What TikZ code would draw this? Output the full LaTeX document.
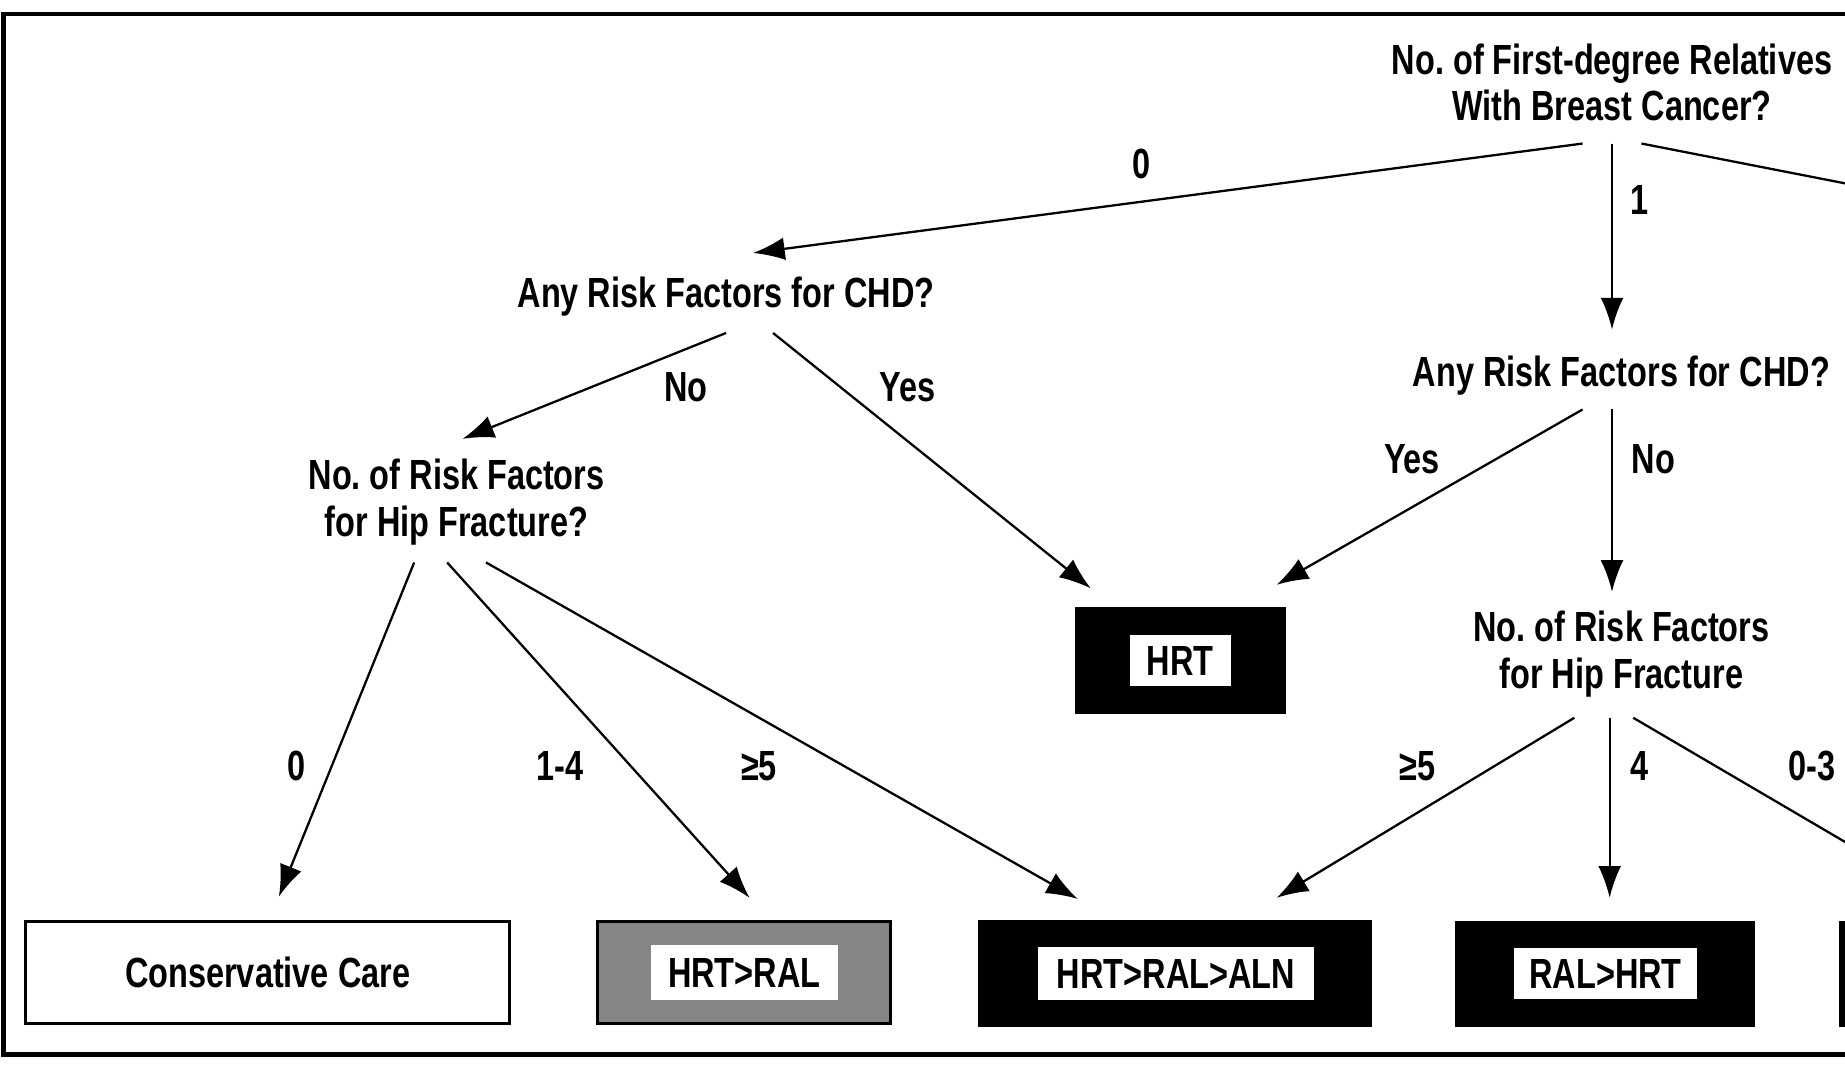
\documentclass[tikz,border=0pt]{standalone}
\usepackage{fontspec}
\newfontfamily\qfont[FakeStretch=0.77,UprightFont=* Bold]{Liberation Sans}
\usetikzlibrary{arrows.meta,calc}
\newlength\pxu
\setlength\pxu{0.011767cm}
\frenchspacing
\begin{document}
\begin{tikzpicture}[x=0.011767cm,y=-0.011767cm,
  q/.style={font=\qfont\fontsize{12}{13.3}\selectfont, align=center, inner sep=0pt},
  lab/.style={font=\qfont\fontsize{12}{13.3}\selectfont, inner sep=0pt, anchor=mid},
  ln/.style={line width=0.65pt},
  arr/.style={ln, -{Latex[length=9pt,width=6.5pt]}},
  outerbox/.style={draw=black, line width=0.8pt, inner sep=0pt},
  innerbox/.style={fill=white, inner sep=0pt, font=\qfont\fontsize{12}{13.3}\selectfont},
  frame/.style={line width=1.3pt}]
\useasboundingbox (0,0) rectangle (1568,906);
\clip (0,0) rectangle (1568,906);
\fill[white] (0,0) rectangle (1568,906);
% frame
\draw[frame] (1620,12) -- (3,12) -- (3,896) -- (1620,896);

% question nodes
\node[q] (top) at (1370,70) {No. of First-degree Relatives\\With Breast Cancer?};
\node[q] (chdL) at (617,252) {Any Risk Factors for CHD?};
\node[q] (chdR) at (1378,319) {Any Risk Factors for CHD?};
\node[q] (hipL) at (388,427) {No. of Risk Factors\\for Hip Fracture?};
\node[q] (hipR) at (1378,556) {No. of Risk Factors\\for Hip Fracture};

% outcome boxes
\node[outerbox, fill=black, minimum width=177\pxu, minimum height=89\pxu] (hrtO) at (1003.5,561.5) {};
\node[innerbox, minimum width=86\pxu, minimum height=43\pxu] (hrt) at (1003,561.5) {HRT};

\node[outerbox, fill=white, minimum width=411\pxu, minimum height=87\pxu, font=\qfont\fontsize{12}{13.3}\selectfont] (consO) at (227.5,826.5) {Conservative Care};

\node[outerbox, fill=black!48, minimum width=249\pxu, minimum height=87\pxu] (hrtralO) at (632.5,826.5) {};
\node[innerbox, minimum width=159\pxu, minimum height=47\pxu] (hrtral) at (632.5,826.5) {HRT>RAL};

\node[outerbox, fill=black, minimum width=333\pxu, minimum height=89\pxu] (hrtralalnO) at (998.5,827.5) {};
\node[innerbox, minimum width=235\pxu, minimum height=45\pxu] (hrtralaln) at (999.5,827.5) {HRT>RAL>ALN};

\node[outerbox, fill=black, minimum width=252\pxu, minimum height=88\pxu] (ralhrtO) at (1364,828) {};
\node[innerbox, minimum width=155\pxu, minimum height=43\pxu] (ralhrt) at (1364.5,827.5) {RAL>HRT};

\node[outerbox, fill=black, minimum width=120\pxu, minimum height=88\pxu] (cutO) at (1624,828) {};

% free ends leaving the picture
\coordinate (offA) at (1620,166);
\coordinate (offB) at (1620,746);

% connectors
\draw[arr] ($(top)+(-25,52)$) -- ($(chdL)+(23,-37)$);
\draw[arr] ($(top)+(0,52)$) -- ($(chdR)+(-8,-39)$);
\draw[ln]  ($(top)+(25,52)$) -- (offA);

\draw[arr] ($(chdL)+(0,31)$) -- ($(hipL)+(5,-54)$);
\draw[arr] ($(chdL)+(40,31)$) -- ($(hrtO)+(-76.5,-61.5)$);

\draw[arr] ($(chdR)+(-33,29)$) -- ($(hrtO)+(81.5,-64.5)$);
\draw[arr] ($(chdR)+(-8,29)$) -- ($(hipR)+(-8,-53)$);

\draw[arr] ($(hipL)+(-36,51)$) -- ($(consO)+(9.5,-64.5)$);
\draw[arr] ($(hipL)+(-8,51)$) -- ($(hrtralO)+(4.5,-63.5)$);
\draw[arr] ($(hipL)+(25,51)$) -- ($(hrtralalnO)+(-82.5,-63.5)$);

\draw[arr] ($(hipR)+(-40,54)$) -- ($(hrtralalnO)+(86.5,-64.5)$);
\draw[arr] ($(hipR)+(-10,54)$) -- ($(ralhrtO)+(4,-65)$);
\draw[ln]  ($(hipR)+(10,54)$) -- (offB);

% edge labels
\node[lab] (l0a) at (970,145) {0};
\node[lab] (l1a) at (1393,176) {1};
\node[lab] (lnoL) at (583,335) {No};
\node[lab] (lyesL) at (771,335) {Yes};
\node[lab] (lyesR) at (1200,396) {Yes};
\node[lab] (lnoR) at (1405,396) {No};
\node[lab] (l0b) at (252,657) {0};
\node[lab] (l14) at (476,657) {1-4};
\node[lab] (l5a) at (645,657) {≥5};
\node[lab] (l5b) at (1205,657) {≥5};
\node[lab] (l4) at (1393,657) {4};
\node[lab] (l03) at (1540,657) {0-3};
\end{tikzpicture}
\end{document}
